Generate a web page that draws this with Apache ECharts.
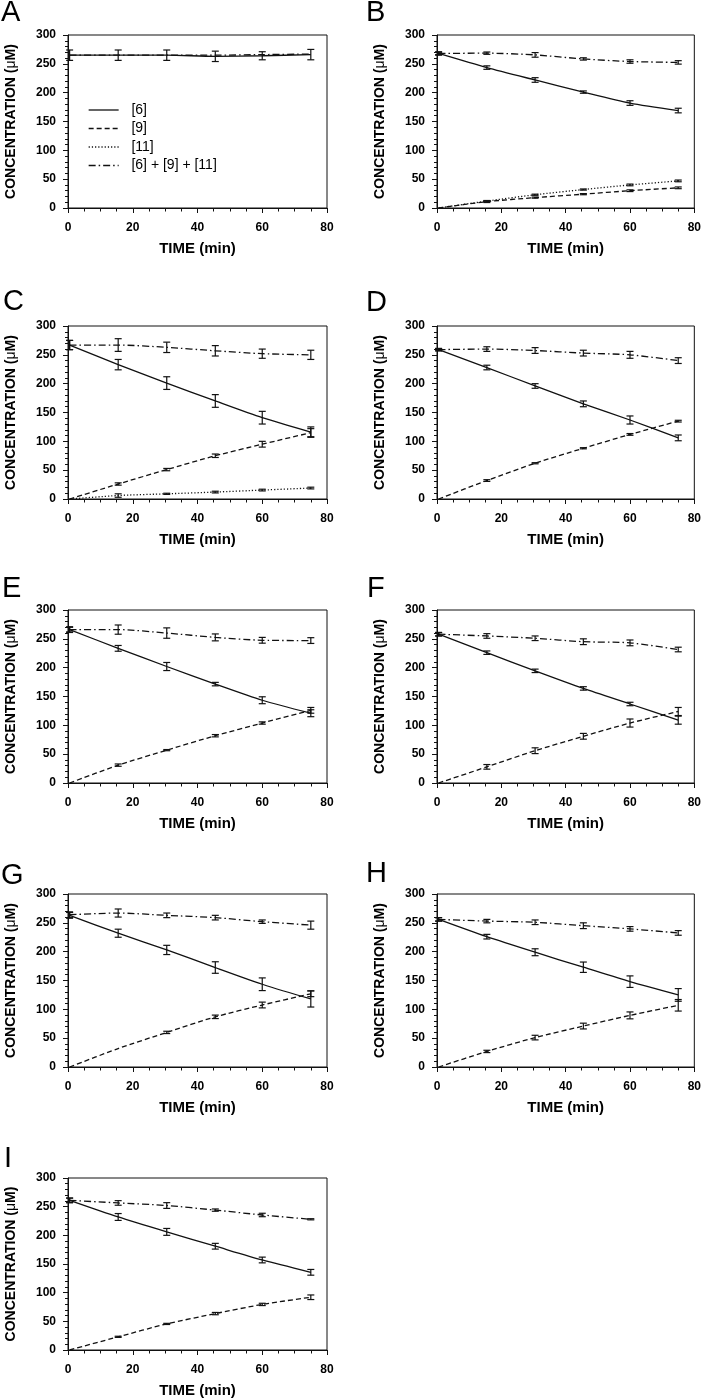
<!DOCTYPE html>
<html><head><meta charset="utf-8">
<script src="https://cdn.jsdelivr.net/npm/echarts@6/dist/echarts.min.js"></script>
<style>html,body{margin:0;padding:0;background:#fff}#c{width:704px;height:1399px}</style>
</head><body><div id="c"></div>
<script>
// ---- data ----
const times = [0.5, 15.5, 30.5, 45.5, 60, 75];
const panels = ['A','B','C','D','E','F','G','H','I'];
const seriesNames = ['[6]', '[9]', '[11]', '[6] + [9] + [11]'];
const xTicks = [0, 20, 40, 60, 80];
const yTicks = [0, 50, 100, 150, 200, 250, 300];

// [6] mean and SD per panel (A..I)
const c6 = [
  [265, 265, 265, 263, 264, 266],
  [268, 243.5, 222, 201, 182, 169],
  [267, 233, 201, 170, 141, 116],
  [259, 228, 196, 165, 137, 106],
  [266, 233.5, 202, 171.5, 143.5, 121],
  [258, 226, 194.5, 164, 137, 109],
  [263, 232, 203, 172.5, 143.5, 118],
  [256, 226, 199, 173, 148, 125],
  [261, 232, 206, 181, 157, 135.5]
];
const sd6 = [
  [9, 9, 9, 9, 7, 9],
  [2, 3, 4, 2, 4, 4],
  [8, 9, 11, 11, 11, 9],
  [2, 4, 4, 5, 7, 5],
  [4, 5, 7, 3, 6, 6],
  [3, 3, 3, 3, 3, 7],
  [5, 7, 8, 10, 11, 14],
  [3, 4, 6, 9, 10, 11],
  [4, 6, 6, 5, 5, 5]
];
// [9]
const c9 = [
  null,
  [0, 11, 18, 24, 30, 35],
  [0, 26, 51, 75, 95, 115],
  [0, 32, 62, 88, 112, 135],
  [0, 31, 57, 82, 104, 126],
  [0, 28, 56, 81, 104, 124],
  [0, 32, 60, 87, 107.5, 127],
  [0, 27, 51, 71, 89.5, 107],
  [0, 23, 45.5, 63.5, 79.5, 92]
];
const sd9 = [
  null,
  [0, 1.5, 1, 1, 1.5, 1.5],
  [0, 2, 2, 3, 5, 7],
  [0, 1.5, 1, 1, 1.5, 1.5],
  [0, 2, 1, 2, 2, 5],
  [0, 4, 5, 5, 7, 7],
  [0, 0, 2, 3, 5, 5],
  [0, 2, 4, 5, 6, 10],
  [0, 1, 1, 2, 2, 4]
];
// [11]
const c11 = [
  null,
  [0, 12, 23, 32, 40, 47],
  [0, 6, 9, 12, 15.5, 19],
  null, null, null, null, null, null
];
const sd11 = [
  null,
  [0, 1, 1, 1, 1.5, 1.5],
  [0, 3, 1, 1.5, 1.5, 1.5],
  null, null, null, null, null, null
];
// [6] + [9] + [11]
const cSum = [
  [265, 265, 265, 265, 266, 267],
  [268, 268.5, 265.5, 258.5, 254, 252.5],
  [267, 267, 263, 257, 252, 250],
  [259, 260, 257.5, 253, 250, 240],
  [266, 266, 260, 252.5, 247.5, 247],
  [258, 255, 251, 245, 243, 231.5],
  [264, 267, 263, 259, 252, 246],
  [256, 253, 251, 245, 239.5, 232.5],
  [261, 256.5, 252, 244, 235.5, 228]
];
const sdSum = [
  [0, 0, 0, 0, 0, 0],
  [3, 2, 4, 2, 3, 3],
  [8, 11, 9, 9, 8, 8],
  [2, 4, 5, 5, 6, 5],
  [5, 8, 9, 6, 5, 5],
  [3, 4, 4, 5, 5, 4],
  [5, 7, 4, 4, 3, 7],
  [3, 3, 4, 5, 4, 4],
  [4, 4, 5, 2, 3, 1]
];

// ---- layout / style ----
const FONT = 'Liberation Sans, Arial, sans-serif';
const INK = '#111';
const gridPos = [
  [68, 35], [437, 35],
  [68, 326], [437, 326],
  [68, 610], [437, 610],
  [68, 894], [437, 894],
  [68, 1178]
];
const labelPos = [
  [1, -2], [366, -2],
  [3, 287], [366, 288],
  [2, 574], [367, 574],
  [1, 861], [366, 859],
  [4, 1144]
];
const GW = 259, GH = 173;
const lineTypes = {
  '[6]': 'solid',
  '[9]': [5, 3],
  '[11]': [1.2, 2],
  '[6] + [9] + [11]': [7, 3, 1.5, 3]
};

function renderErr(params, api) {
  const x = api.value(0), y = api.value(1), e = api.value(2);
  if (!e) return null;
  const t = api.coord([x, y + e]), b = api.coord([x, y - e]);
  const w = 3.5;
  const style = { stroke: INK, lineWidth: 1.2 };
  return {
    type: 'group', children: [
      { type: 'line', shape: { x1: t[0], y1: t[1], x2: b[0], y2: b[1] }, style },
      { type: 'line', shape: { x1: t[0] - w, y1: t[1], x2: t[0] + w, y2: t[1] }, style },
      { type: 'line', shape: { x1: b[0] - w, y1: b[1], x2: b[0] + w, y2: b[1] }, style }
    ]
  };
}

const grids = [], xAxes = [], yAxes = [], series = [], titles = [];
panels.forEach((p, i) => {
  grids.push({ left: gridPos[i][0], top: gridPos[i][1], width: GW, height: GH,
    show: true, borderColor: INK, borderWidth: 1, backgroundColor: 'transparent' });
  titles.push({ text: p, left: labelPos[i][0], top: labelPos[i][1], padding: 0,
    textStyle: { fontFamily: FONT, fontSize: 29, fontWeight: 'normal', color: '#000' } });
  xAxes.push({
    gridIndex: i, type: 'value', min: xTicks[0], max: xTicks[xTicks.length - 1],
    interval: xTicks[1] - xTicks[0],
    axisLine: { show: true, onZero: false, lineStyle: { color: INK, width: 1 } },
    axisTick: { show: true, length: 5, lineStyle: { color: INK } },
    minorTick: { show: true, splitNumber: 4, length: 3.5, lineStyle: { color: INK } },
    splitLine: { show: false },
    axisLabel: { fontFamily: FONT, fontWeight: 'bold', fontSize: 12, color: '#000', margin: 14 },
    name: 'TIME (min)', nameLocation: 'middle', nameGap: 33,
    nameTextStyle: { fontFamily: FONT, fontWeight: 'bold', fontSize: 15, color: '#000' }
  });
  yAxes.push({
    gridIndex: i, type: 'value', min: yTicks[0], max: yTicks[yTicks.length - 1],
    interval: yTicks[1] - yTicks[0],
    axisLine: { show: true, onZero: false, lineStyle: { color: INK, width: 1 } },
    axisTick: { show: true, length: 5, lineStyle: { color: INK } },
    minorTick: { show: true, splitNumber: 5, length: 3, lineStyle: { color: INK } },
    splitLine: { show: false },
    axisLabel: { fontFamily: FONT, fontWeight: 'bold', fontSize: 12, color: '#000', margin: 12 },
    name: '{b|CONCENTRATION (}{m|μ}{b|M)}', nameLocation: 'middle', nameGap: 50,
    nameTextStyle: { fontFamily: FONT, color: '#000',
      rich: { b: { fontFamily: FONT, fontWeight: 'bold', fontSize: 14, color: '#000' },
              m: { fontFamily: FONT, fontWeight: 'normal', fontSize: 14, color: '#000' } } }
  });
  const sets = [
    ['[6]', c6[i], sd6[i]],
    ['[9]', c9[i], sd9[i]],
    ['[11]', c11[i], sd11[i]],
    ['[6] + [9] + [11]', cSum[i], sdSum[i]]
  ];
  sets.forEach(([name, vals, sds]) => {
    if (!vals) return;
    series.push({
      type: 'line', name, xAxisIndex: i, yAxisIndex: i, symbol: 'none', smooth: 0.25,
      lineStyle: { color: INK, width: 1.3, type: lineTypes[name] },
      itemStyle: { color: INK },
      data: times.map((t, j) => [t, vals[j]]), z: 3
    });
    series.push({
      type: 'custom', name: 'err' + name, xAxisIndex: i, yAxisIndex: i,
      renderItem: renderErr, encode: { x: 0, y: 1 },
      data: times.map((t, j) => [t, vals[j], sds[j]]), z: 4
    });
  });
});

const chart = echarts.init(document.getElementById('c'), null, { renderer: 'canvas' });
chart.setOption({
  animation: false,
  backgroundColor: '#fff',
  title: titles,
  grid: grids, xAxis: xAxes, yAxis: yAxes, series,
  legend: {
    data: seriesNames, orient: 'vertical', left: 83, top: 98,
    itemWidth: 30, itemHeight: 12, itemGap: 4.5, selectedMode: false,
    itemStyle: { opacity: 0, color: 'rgba(0,0,0,0)', borderWidth: 0 },
    lineStyle: { width: 1.3 },
    formatter: n => '  ' + n,
    textStyle: { fontFamily: FONT, fontSize: 14, color: '#000' }
  }
});
</script>
</body></html>
